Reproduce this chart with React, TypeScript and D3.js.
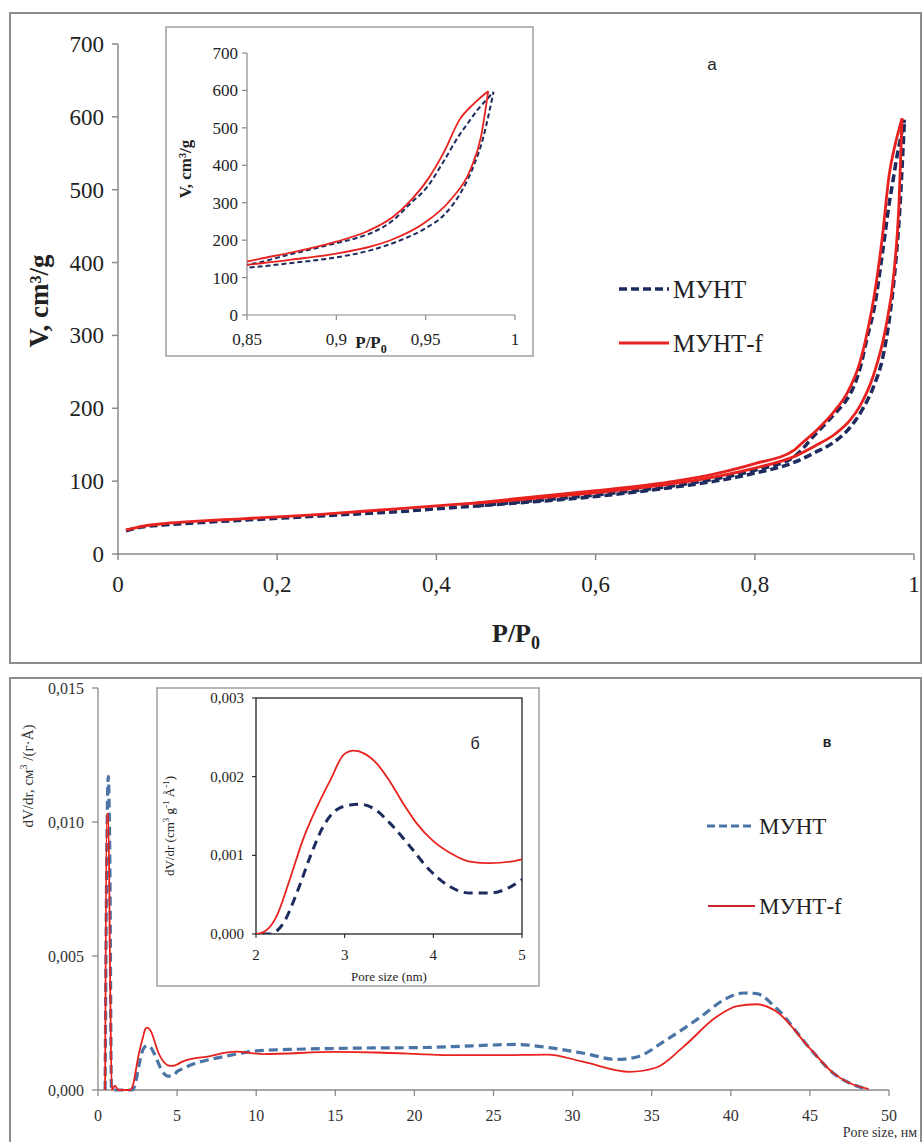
import React from "react";
import * as d3 from "d3";

// ---- Nitrogen sorption isotherms, V (cm3/g) vs P/P0 ----
const munt_ads: [number, number][] = [
  [0.01, 32], [0.03, 37], [0.06, 40], [0.1, 43], [0.15, 46], [0.2, 49], [0.25, 52],
  [0.3, 55], [0.35, 58], [0.4, 62], [0.45, 66], [0.5, 70], [0.55, 74], [0.6, 79],
  [0.65, 85], [0.7, 92], [0.75, 100], [0.8, 111], [0.85, 126], [0.875, 139],
  [0.9, 154], [0.92, 174], [0.935, 198], [0.95, 232], [0.96, 266], [0.97, 330],
  [0.977, 400], [0.982, 470], [0.985, 530], [0.988, 596],
];
const munt_des: [number, number][] = [
  [0.45, 66], [0.5, 71], [0.6, 81], [0.7, 94], [0.75, 103], [0.8, 115], [0.85, 134],
  [0.875, 163], [0.9, 192], [0.913, 208], [0.92, 220], [0.932, 254], [0.941, 296],
  [0.951, 343], [0.96, 410], [0.969, 482], [0.974, 515], [0.979, 548], [0.984, 575],
  [0.988, 596],
];
const muntf_ads: [number, number][] = [
  [0.01, 33], [0.03, 38], [0.06, 42], [0.1, 45], [0.15, 48], [0.2, 51], [0.25, 54],
  [0.3, 58], [0.35, 62], [0.4, 66], [0.45, 70], [0.5, 74], [0.55, 79], [0.6, 84],
  [0.65, 90], [0.7, 97], [0.75, 106], [0.8, 118], [0.85, 134], [0.875, 148],
  [0.9, 164], [0.92, 184], [0.932, 203], [0.949, 245], [0.964, 308], [0.975, 388],
  [0.981, 477], [0.985, 598],
];
const muntf_des: [number, number][] = [
  [0.45, 70], [0.5, 76], [0.6, 87], [0.7, 100], [0.75, 110], [0.8, 124], [0.85, 143],
  [0.857, 150], [0.876, 168], [0.9, 196], [0.917, 223], [0.932, 263], [0.941, 303],
  [0.951, 361], [0.96, 433], [0.969, 522], [0.977, 565], [0.985, 598],
];

// ---- Pore size distributions, dV/dr vs pore size (nm) ----
const munt_psd: [number, number][] = [
  [0.45, 0], [0.55, 0.0085], [0.65, 0.0117], [0.75, 0.0085], [0.85, 0], [1.5, 0],
  [2.15, 0], [2.31, 0.00014], [2.46, 0.00052], [2.61, 0.00098], [2.76, 0.00137],
  [2.91, 0.00158], [3.06, 0.00164], [3.17, 0.00165], [3.32, 0.0016], [3.51, 0.00141],
  [3.74, 0.00111], [3.96, 0.00081], [4.19, 0.0006], [4.41, 0.00052], [4.64, 0.00052],
  [4.87, 0.0006], [5.0, 0.00069], [5.3, 0.00078], [6.07, 0.00098], [7, 0.00113],
  [7.9, 0.00124], [10, 0.00146], [12.5, 0.00152], [15, 0.00155], [17.5, 0.00157],
  [20, 0.00158], [22.5, 0.00162], [25, 0.00168], [26.4, 0.0017], [28.5, 0.00158],
  [30.7, 0.00137], [32.8, 0.00114], [34, 0.00122], [35.9, 0.00186], [38.1, 0.00273],
  [39.7, 0.00341], [40.8, 0.00362], [41.6, 0.0036], [42.9, 0.00304], [45, 0.00155],
  [46.5, 0.00062], [47.5, 0.00026], [48.7, 0.00002],
];
const muntf_psd: [number, number][] = [
  [0.45, 0], [0.55, 0.0103], [0.65, 0.0103], [0.78, 0.0035], [0.87, 0], [1.07, 0.00016],
  [1.3, 0], [2.0, 0], [2.12, 0.00005], [2.23, 0.00022], [2.38, 0.00069], [2.53, 0.0012],
  [2.69, 0.00162], [2.84, 0.00196], [2.99, 0.00228], [3.1, 0.00233], [3.21, 0.0023],
  [3.36, 0.00217], [3.51, 0.00194], [3.66, 0.00166], [3.81, 0.00141], [4.0, 0.00118],
  [4.19, 0.00103], [4.41, 0.00092], [4.64, 0.0009], [4.87, 0.00092], [5.0, 0.00095],
  [5.3, 0.00105], [6.07, 0.00118], [6.8, 0.00124], [8.7, 0.00143], [10.5, 0.00134],
  [15, 0.00142], [17.6, 0.0014], [20, 0.00135], [22, 0.0013], [25.4, 0.0013],
  [28.4, 0.00132], [30.7, 0.00105], [33.6, 0.00068], [35.3, 0.00084], [37, 0.00161],
  [39.1, 0.00273], [40.4, 0.00313], [41.6, 0.0032], [42.9, 0.00292], [45, 0.00155],
  [46.5, 0.00062], [47.5, 0.00026], [48.7, 0.00004],
];

// ---- Tick values ----
const isoXTicks = [0, 0.2, 0.4, 0.6, 0.8, 1];
const isoYTicks = [0, 100, 200, 300, 400, 500, 600, 700];
const isoInsetXTicks = [0.85, 0.9, 0.95, 1];
const psdXTicks = [0, 5, 10, 15, 20, 25, 30, 35, 40, 45, 50];
const psdYTicks = [0, 0.005, 0.01, 0.015];
const psdInsetXTicks = [2, 3, 4, 5];
const psdInsetYTicks = [0, 0.001, 0.002, 0.003];

const seriesNames = ["МУНТ", "МУНТ-f"];

const SERIF = "'Liberation Serif', 'Times New Roman', Tinos, 'DejaVu Serif', serif";
const SANS = "'Liberation Sans', Arial, sans-serif";
const NAVY = "#1d2b5e";
const STEEL = "#4b74a6";
const RED = "#e8221e";
const AXIS = "#8a8a8a";

const fmt = (v: number, digits: number) => v.toFixed(digits).replace(".", ",");
const fmtTrim = (v: number) => String(v).replace(".", ",");

function lineFor(x: d3.ScaleLinear<number, number>, y: d3.ScaleLinear<number, number>) {
  return d3
    .line<[number, number]>()
    .x((d) => x(d[0]))
    .y((d) => y(d[1]))
    .curve(d3.curveMonotoneX);
}

const serifStyle = (size: number, bold = false) => ({
  fontFamily: SERIF,
  fontSize: size,
  fontWeight: bold ? 700 : 400,
});

export default function App() {
  // Isotherm main axes
  const ix = d3.scaleLinear().domain([0, 1]).range([118, 914]);
  const iy = d3.scaleLinear().domain([0, 700]).range([554, 44]);
  const iLine = lineFor(ix, iy);

  // Isotherm inset axes
  const jx = d3.scaleLinear().domain([0.85, 1]).range([247, 515]);
  const jy = d3.scaleLinear().domain([0, 700]).range([315, 53]);
  const jLine = lineFor(jx, jy);

  // PSD main axes
  const px = d3.scaleLinear().domain([0, 50]).range([98, 889]);
  const py = d3.scaleLinear().domain([0, 0.015]).range([1090, 688]);
  const pLine = lineFor(px, py);

  // PSD inset axes
  const qx = d3.scaleLinear().domain([2, 5]).range([256, 522]);
  const qy = d3.scaleLinear().domain([0, 0.003]).range([934, 698]);
  const qLine = lineFor(qx, qy);

  return (
    <svg
      width={922}
      height={1142}
      style={{ position: "absolute", left: 0, top: 0, background: "#fff" }}
    >
      <defs>
        <clipPath id="clip-iso-inset">
          <rect x={jx(0.85)} y={jy(700)} width={jx(1) - jx(0.85)} height={jy(0) - jy(700) + 2} />
        </clipPath>
        <clipPath id="clip-psd-inset">
          <rect x={qx(2)} y={qy(0.003)} width={qx(5) - qx(2)} height={qy(0) - qy(0.003)} />
        </clipPath>
      </defs>
      <rect x={0} y={0} width={922} height={1142} fill="#fff" />

      {/* ===== Panel а: isotherms ===== */}
      <rect x={10} y={13} width={911} height={650} fill="none" stroke="#8c8c8c" strokeWidth={2} />

      <line x1={ix(0)} x2={ix(1)} y1={iy(0)} y2={iy(0)} stroke={AXIS} strokeWidth={1.5} />
      <line x1={ix(0)} x2={ix(0)} y1={iy(0)} y2={iy(700)} stroke={AXIS} strokeWidth={1.5} />
      {isoYTicks.map((t) => (
        <g key={"iy" + t}>
          <line x1={ix(0) - 6} x2={ix(0)} y1={iy(t)} y2={iy(t)} stroke={AXIS} strokeWidth={1.5} />
          <text x={ix(0) - 14} y={iy(t) + 8} textAnchor="end" style={serifStyle(23)} fill="#222">
            {t}
          </text>
        </g>
      ))}
      {isoXTicks.map((t) => (
        <g key={"ix" + t}>
          <line x1={ix(t)} x2={ix(t)} y1={iy(0)} y2={iy(0) + 6} stroke={AXIS} strokeWidth={1.5} />
          <text x={ix(t)} y={iy(0) + 38} textAnchor="middle" style={serifStyle(23)} fill="#222">
            {fmtTrim(t)}
          </text>
        </g>
      ))}
      <text
        transform={`translate(48,${(iy(0) + iy(700)) / 2 + 2}) rotate(-90)`}
        textAnchor="middle"
        style={serifStyle(27, true)}
        fill="#222"
      >
        V, cm³/g
      </text>
      <text x={516} y={642} textAnchor="middle" style={serifStyle(26, true)} fill="#222">
        P/P<tspan dy={7} fontSize={18}>0</tspan>
      </text>

      <path d={iLine(munt_ads) || ""} fill="none" stroke={NAVY} strokeWidth={3.5} strokeDasharray="8,4" />
      <path d={iLine(munt_des) || ""} fill="none" stroke={NAVY} strokeWidth={3.5} strokeDasharray="8,4" />
      <path d={iLine(muntf_ads) || ""} fill="none" stroke={RED} strokeWidth={2.8} />
      <path d={iLine(muntf_des) || ""} fill="none" stroke={RED} strokeWidth={2.8} />

      <line x1={619} x2={669} y1={289} y2={289} stroke={NAVY} strokeWidth={3.5} strokeDasharray="8,4" />
      <text x={673} y={298} style={serifStyle(25)} fill="#222">
        {seriesNames[0]}
      </text>
      <line x1={619} x2={669} y1={343} y2={343} stroke={RED} strokeWidth={3} />
      <text x={673} y={352} style={serifStyle(25)} fill="#222">
        {seriesNames[1]}
      </text>
      <text x={712} y={70} textAnchor="middle" fontFamily={SANS} fontSize={17} fill="#222">
        а
      </text>

      {/* inset */}
      <rect x={166} y={27} width={367} height={329} fill="#fff" stroke="#a0a0a0" strokeWidth={1.5} />
      <line x1={jx(0.85)} x2={jx(1)} y1={jy(0)} y2={jy(0)} stroke={AXIS} strokeWidth={1.2} />
      <line x1={jx(0.85)} x2={jx(0.85)} y1={jy(0)} y2={jy(700)} stroke={AXIS} strokeWidth={1.2} />
      {isoYTicks.map((t) => (
        <g key={"jy" + t}>
          <line x1={jx(0.85) - 5} x2={jx(0.85)} y1={jy(t)} y2={jy(t)} stroke={AXIS} strokeWidth={1.2} />
          <text x={jx(0.85) - 9} y={jy(t) + 6} textAnchor="end" style={serifStyle(17)} fill="#222">
            {t}
          </text>
        </g>
      ))}
      {isoInsetXTicks.map((t) => (
        <g key={"jx" + t}>
          <line x1={jx(t)} x2={jx(t)} y1={jy(0)} y2={jy(0) + 5} stroke={AXIS} strokeWidth={1.2} />
          <text x={jx(t)} y={jy(0) + 30} textAnchor="middle" style={serifStyle(17)} fill="#222">
            {fmtTrim(t)}
          </text>
        </g>
      ))}
      <text x={371} y={348} textAnchor="middle" style={serifStyle(17, true)} fill="#222">
        P/P<tspan dy={5} fontSize={12}>0</tspan>
      </text>
      <text transform={`translate(191,169) rotate(-90)`} textAnchor="middle" style={serifStyle(17, true)} fill="#222">
        V, cm³/g
      </text>
      <g clipPath="url(#clip-iso-inset)">
        <path d={jLine(munt_ads) || ""} fill="none" stroke={NAVY} strokeWidth={2} strokeDasharray="5,3" />
        <path d={jLine(munt_des) || ""} fill="none" stroke={NAVY} strokeWidth={2} strokeDasharray="5,3" />
        <path d={jLine(muntf_ads) || ""} fill="none" stroke={RED} strokeWidth={1.8} />
        <path d={jLine(muntf_des) || ""} fill="none" stroke={RED} strokeWidth={1.8} />
      </g>

      {/* ===== Panel в: pore size distribution ===== */}
      <rect x={10} y={678} width={911} height={470} fill="none" stroke="#8c8c8c" strokeWidth={2} />

      <line x1={px(0)} x2={px(50)} y1={py(0)} y2={py(0)} stroke={AXIS} strokeWidth={1.3} />
      <line x1={px(0)} x2={px(0)} y1={py(0)} y2={py(0.015)} stroke={AXIS} strokeWidth={1.3} />
      {psdYTicks.map((t) => (
        <g key={"py" + t}>
          <line x1={px(0) - 6} x2={px(0)} y1={py(t)} y2={py(t)} stroke={AXIS} strokeWidth={1.3} />
          <text x={px(0) - 14} y={py(t) + 6} textAnchor="end" style={serifStyle(16)} fill="#333">
            {fmt(t, 3)}
          </text>
        </g>
      ))}
      {psdXTicks.map((t) => (
        <g key={"px" + t}>
          <line x1={px(t)} x2={px(t)} y1={py(0)} y2={py(0) + 6} stroke={AXIS} strokeWidth={1.3} />
          <text x={px(t)} y={py(0) + 31} textAnchor="middle" style={serifStyle(16)} fill="#333">
            {t}
          </text>
        </g>
      ))}
      <text x={917} y={1137} textAnchor="end" style={serifStyle(14)} fill="#333">
        Pore size, нм
      </text>
      <text transform={`translate(33,776) rotate(-90)`} textAnchor="middle" style={serifStyle(15)} fill="#333">
        dV/dr, см<tspan dy={-6} fontSize={10}>3</tspan>
        <tspan dy={6}> /(г·Å)</tspan>
      </text>

      <path d={pLine(munt_psd) || ""} fill="none" stroke={STEEL} strokeWidth={3.2} strokeDasharray="9,5" />
      <path d={pLine(muntf_psd) || ""} fill="none" stroke={RED} strokeWidth={1.8} />

      <line x1={707} x2={755} y1={826} y2={826} stroke={STEEL} strokeWidth={3} strokeDasharray="8,4" />
      <text x={759} y={834} style={serifStyle(23)} fill="#222">
        {seriesNames[0]}
      </text>
      <line x1={708} x2={755} y1={906} y2={906} stroke="#c8282a" strokeWidth={2} />
      <text x={759} y={914} style={serifStyle(23)} fill="#222">
        {seriesNames[1]}
      </text>
      <text x={827} y={747} textAnchor="middle" fontFamily={SANS} fontSize={14} fontWeight="bold" fill="#222">
        в
      </text>

      {/* inset */}
      <rect x={157} y={688} width={382} height={298} fill="#fff" stroke="#a0a0a0" strokeWidth={1.5} />
      <rect
        x={qx(2)}
        y={qy(0.003)}
        width={qx(5) - qx(2)}
        height={qy(0) - qy(0.003)}
        fill="none"
        stroke="#111"
        strokeWidth={1.2}
      />
      {psdInsetYTicks.map((t) => (
        <g key={"qy" + t}>
          <line x1={qx(2) - 4} x2={qx(2)} y1={qy(t)} y2={qy(t)} stroke="#111" strokeWidth={1} />
          <text x={qx(2) - 12} y={qy(t) + 5} textAnchor="end" style={serifStyle(15)} fill="#222">
            {fmt(t, 3)}
          </text>
        </g>
      ))}
      {psdInsetXTicks.map((t) => (
        <g key={"qx" + t}>
          <line x1={qx(t)} x2={qx(t)} y1={qy(0)} y2={qy(0) + 4} stroke="#111" strokeWidth={1} />
          <text x={qx(t)} y={qy(0) + 26} textAnchor="middle" style={serifStyle(15)} fill="#222">
            {t}
          </text>
        </g>
      ))}
      <text x={389} y={981} textAnchor="middle" style={serifStyle(13)} fill="#222">
        Pore size (nm)
      </text>
      <text transform={`translate(174,826) rotate(-90)`} textAnchor="middle" style={serifStyle(13)} fill="#222">
        dV/dr (cm<tspan dy={-5} fontSize={9}>3</tspan>
        <tspan dy={5}> g</tspan>
        <tspan dy={-5} fontSize={9}>-1</tspan>
        <tspan dy={5}> Å</tspan>
        <tspan dy={-5} fontSize={9}>-1</tspan>
        <tspan dy={5}>)</tspan>
      </text>
      <text x={475} y={749} textAnchor="middle" fontFamily={SANS} fontSize={16} fill="#222">
        б
      </text>
      <g clipPath="url(#clip-psd-inset)">
        <path d={qLine(munt_psd) || ""} fill="none" stroke={NAVY} strokeWidth={3} strokeDasharray="9,6" />
        <path d={qLine(muntf_psd) || ""} fill="none" stroke={RED} strokeWidth={1.8} />
      </g>
    </svg>
  );
}
